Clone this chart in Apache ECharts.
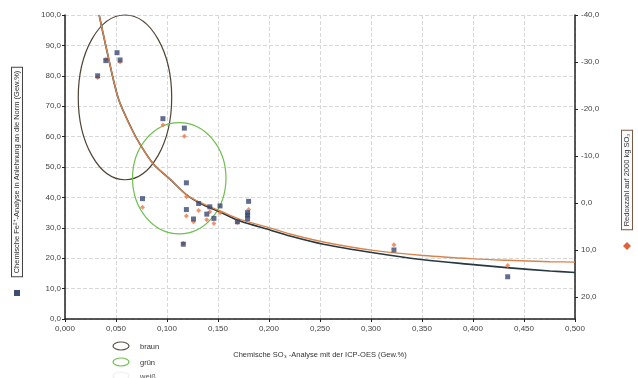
<!DOCTYPE html>
<html>
<head>
<meta charset="utf-8">
<script src="https://cdn.jsdelivr.net/npm/echarts@6/dist/echarts.min.js"></script>
<style>
  html, body { margin: 0; padding: 0; background: #fff; }
  #chart { width: 638px; height: 378px; }
</style>
</head>
<body>
<div id="chart"></div>
<script>
// Messpunkte Fe2+ (linke Achse): [SO3, Fe2+]
var fePoints = [
    [0.032, 80.0], [0.040, 85.0], [0.051, 87.6], [0.054, 85.2], [0.076, 39.6],
    [0.096, 65.9], [0.116, 24.6], [0.117, 62.8], [0.119, 44.8], [0.119, 36.0],
    [0.126, 32.9], [0.131, 38.0], [0.139, 34.5], [0.142, 36.9], [0.146, 33.1],
    [0.152, 37.2], [0.169, 32.0], [0.180, 38.7], [0.179, 34.2], [0.179, 33.0],
    [0.179, 35.0], [0.3225, 22.7], [0.434, 13.9]
];
// Messpunkte Redoxzahl (rechte Achse): [SO3, Redoxzahl]
var redoxPoints = [
    [0.032, -26.7], [0.040, -30.6], [0.054, -30.0], [0.076, 0.9], [0.096, -16.6],
    [0.116, 8.6], [0.117, -14.2], [0.119, -1.3], [0.119, 2.8], [0.126, 4.0],
    [0.131, 1.6], [0.139, 3.6], [0.142, 1.9], [0.146, 4.4], [0.152, 2.1],
    [0.169, 4.2], [0.180, 1.4], [0.179, 2.8], [0.3225, 8.9], [0.434, 13.3]
];
// Trendlinien
var feTrend = [
    [0.0335, 100.0], [0.0409, 88.5], [0.0523, 72.5], [0.0654, 62.5], [0.0735, 57.5],
    [0.0866, 51.0], [0.1029, 46.0], [0.1193, 40.8], [0.1324, 38.1], [0.152, 35.2],
    [0.1716, 32.2], [0.201, 29.3], [0.2206, 27.3], [0.2533, 24.6], [0.3023, 21.8],
    [0.3513, 19.5], [0.4003, 17.9], [0.433, 16.9], [0.4755, 15.8], [0.500, 15.3]
];
var redoxTrend = [
    [0.0335, -40.0], [0.0409, -32.6], [0.0523, -22.2], [0.0654, -15.7], [0.0735, -12.5],
    [0.0866, -8.3], [0.1029, -5.1], [0.1193, -1.7], [0.1324, -0.1], [0.152, 1.7],
    [0.1716, 3.5], [0.201, 5.3], [0.2206, 6.6], [0.2533, 8.3], [0.3023, 10.1],
    [0.3513, 11.2], [0.4003, 11.9], [0.433, 12.2], [0.4755, 12.5], [0.500, 12.6]
];
// Ellipsen: [x-Mitte, y-Mitte, Halbachse x, Halbachse y] in Achseneinheiten
var ellipseBraun = [[0.0588, 72.9, 0.0458, 27.1]];
var ellipseGruen = [[0.112, 46.3, 0.0458, 18.3]];
var legendNames = ['braun', 'grün', 'weiß'];

var font = 'Liberation Sans';
var comma = function (d) {
    return function (v) { return v.toFixed(d).replace('.', ','); };
};

function ellipseItem(color) {
    return function (params, api) {
        var c = api.coord([api.value(0), api.value(1)]);
        var e = api.coord([api.value(0) + api.value(2), api.value(1) + api.value(3)]);
        return {
            type: 'ellipse',
            shape: { cx: c[0], cy: c[1], rx: Math.abs(e[0] - c[0]), ry: Math.abs(c[1] - e[1]) },
            style: { fill: 'none', stroke: color, lineWidth: 1.2 }
        };
    };
}

var myChart = echarts.init(document.getElementById('chart'));

var option = {
    backgroundColor: '#fff',
    animation: false,
    textStyle: { fontFamily: font },
    grid: { left: 65, right: 63, top: 15, bottom: 59 },
    xAxis: {
        type: 'value', min: 0, max: 0.5, interval: 0.05,
        name: 'Chemische SO\u2083 -Analyse mit der ICP-OES (Gew.%)',
        nameLocation: 'middle', nameGap: 32,
        nameTextStyle: { fontSize: 7.5, color: '#333' },
        axisLine: { lineStyle: { color: '#222', width: 1.5 } },
        axisTick: { lineStyle: { color: '#222' }, length: 3 },
        axisLabel: { fontSize: 8, color: '#444', margin: 6, formatter: comma(3) },
        splitLine: { show: true, lineStyle: { color: '#d8d8d8', type: 'dashed' } }
    },
    yAxis: [{
        type: 'value', min: 0, max: 100, interval: 10,
        axisLine: { show: true, lineStyle: { color: '#222', width: 1.5 } },
        axisTick: { show: true, lineStyle: { color: '#222' }, length: 3 },
        axisLabel: { fontSize: 8, color: '#444', margin: 4, formatter: comma(1) },
        splitLine: { show: true, lineStyle: { color: '#d8d8d8', type: 'dashed' } }
    }, {
        type: 'value', min: -40, max: 24.7, interval: 10, inverse: true, position: 'right',
        axisLine: { show: true, lineStyle: { color: '#222', width: 1.5 } },
        axisTick: { show: true, lineStyle: { color: '#222' }, length: 3 },
        axisLabel: { fontSize: 8, color: '#444', margin: 6, showMaxLabel: false, formatter: comma(1) },
        splitLine: { show: false }
    }],
    series: [{
        name: 'braun', type: 'custom', renderItem: ellipseItem('#4f4536'),
        data: ellipseBraun, silent: true, z: 1
    }, {
        name: 'grün', type: 'custom', renderItem: ellipseItem('#6fbf4e'),
        data: ellipseGruen, silent: true, z: 1
    }, {
        name: 'Fe-Trend', type: 'line', yAxisIndex: 0, data: feTrend, smooth: 0.3,
        showSymbol: false, lineStyle: { color: '#263840', width: 1.6 }, z: 2
    }, {
        name: 'Redox-Trend', type: 'line', yAxisIndex: 1, data: redoxTrend, smooth: 0.3,
        showSymbol: false, lineStyle: { color: '#d8844e', width: 1.4 }, z: 3
    }, {
        name: 'Redoxzahl', type: 'scatter', yAxisIndex: 1, data: redoxPoints,
        symbol: 'diamond', symbolSize: 5, itemStyle: { color: '#e87a4a' }, z: 4
    }, {
        name: 'Fe', type: 'scatter', yAxisIndex: 0, data: fePoints,
        symbol: 'rect', symbolSize: 5, itemStyle: { color: '#3b4a74' }, z: 5
    }],
    graphic: [
        {
            type: 'text', x: 17, y: 172, rotation: Math.PI / 2,
            style: {
                text: 'Chemische Fe\u00b2\u207a-Analyse in Anlehnung an die Norm (Gew.%)',
                font: '7.5px "Liberation Sans"', fill: '#333',
                align: 'center', verticalAlign: 'middle',
                borderColor: '#444', borderWidth: 1, padding: [1, 3], backgroundColor: '#fafafa'
            }
        },
        { type: 'rect', shape: { x: 14, y: 290, width: 6, height: 6 }, style: { fill: '#3e4d72' } },
        {
            type: 'text', x: 627, y: 180, rotation: Math.PI / 2,
            style: {
                text: 'Redoxzahl auf 2000 kg SO\u2083',
                font: '7.5px "Liberation Sans"', fill: '#333',
                align: 'center', verticalAlign: 'middle',
                borderColor: '#7a5a45', borderWidth: 1, padding: [1, 3], backgroundColor: '#fafafa'
            }
        },
        { type: 'polygon', shape: { points: [[627, 242], [631, 246], [627, 250], [623, 246]] }, style: { fill: '#e0603a' } },
        // Legende der Ellipsen
        { type: 'ellipse', shape: { cx: 121, cy: 346, rx: 8, ry: 4 }, style: { fill: 'none', stroke: '#5a5048', lineWidth: 1.2 } },
        { type: 'text', x: 140, y: 347, style: { text: legendNames[0], font: '7.5px "Liberation Sans"', fill: '#333', verticalAlign: 'middle' } },
        { type: 'ellipse', shape: { cx: 121, cy: 362, rx: 8, ry: 4 }, style: { fill: 'none', stroke: '#6fbf4e', lineWidth: 1.2 } },
        { type: 'text', x: 140, y: 363, style: { text: legendNames[1], font: '7.5px "Liberation Sans"', fill: '#333', verticalAlign: 'middle' } },
        { type: 'ellipse', shape: { cx: 121, cy: 376, rx: 8, ry: 4 }, style: { fill: 'none', stroke: '#f0f0f0', lineWidth: 1.2 } },
        { type: 'text', x: 140, y: 377, style: { text: legendNames[2], font: '7.5px "Liberation Sans"', fill: '#555', verticalAlign: 'middle' } }
    ]
};

if (option && typeof option === 'object') {
    myChart.setOption(option, true);
}
</script>
</body>
</html>
